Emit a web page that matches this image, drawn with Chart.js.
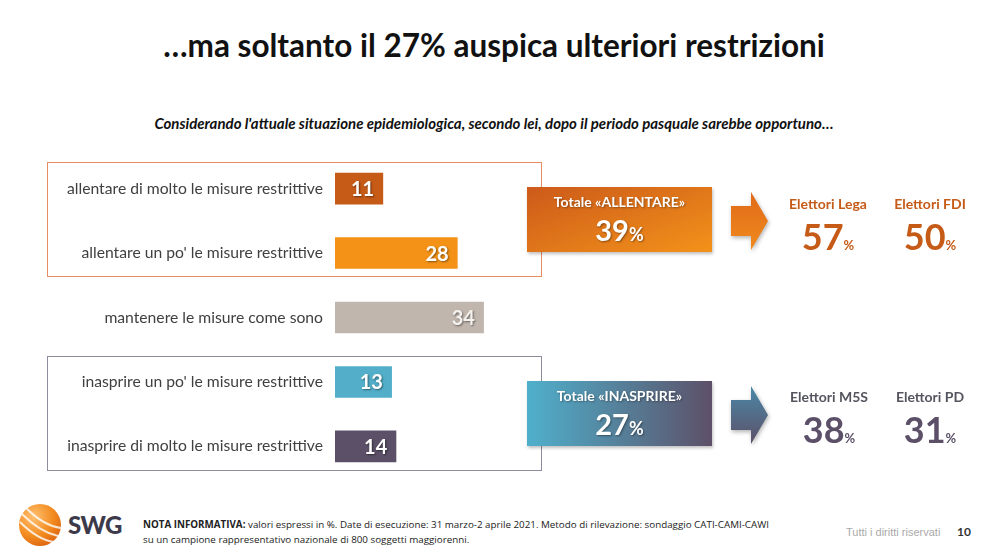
<!DOCTYPE html>
<html>
<head>
<meta charset="utf-8">
<script src="https://cdn.jsdelivr.net/npm/chart.js@4"></script>
<style>
  html, body { margin: 0; padding: 0; background: #fff; }
  body { width: 988px; height: 552px; position: relative; overflow: hidden; font-family: Lato, "Open Sans", sans-serif; }
  .abs { position: absolute; }
  #title { left: 0; width: 988px; top: 26px; text-align: center; font-size: 31.5px; font-weight: bold; color: #111; }
  #subtitle { left: 0; width: 988px; top: 114px; text-align: center; font-size: 15px; font-weight: bold; font-style: italic; color: #111; }
  #chartWrap { left: 0; top: 135px; width: 554px; height: 365px; }
  .group { border: 1.5px solid; box-sizing: border-box; }
  .total { color: #fff; text-align: center; font-weight: bold; box-shadow: 1px 2px 3px rgba(0,0,0,0.25); }
  .total .lbl { font-size: 14px; margin-top: 6px; text-shadow: 1px 1px 2px rgba(0,0,0,0.35); }
  .total .num { font-size: 29px; line-height: 32px; margin-top: 4px; text-shadow: 1px 1px 2px rgba(0,0,0,0.4); }
  .total .num small { font-size: 18px; }
  .party { text-align: center; font-weight: bold; width: 100px; }
  .party .lbl { font-size: 14px; }
  .party .num { font-size: 36px; line-height: 40px; margin-top: 4px; }
  .party .num small { font-size: 13px; }
  #nota { left: 143px; top: 517px; font-family: "Liberation Sans Narrow", "Open Sans", sans-serif; font-size: 9.8px; line-height: 15px; color: #222; }
  #rights { left: 846px; top: 526px; font-family: "Liberation Sans Narrow", sans-serif; font-size: 11px; color: #aaa; }
  #page { left: 957px; top: 524px; font-size: 12px; font-weight: bold; color: #333; }
  #swg { left: 68px; top: 510px; font-size: 24px; font-weight: 900; color: #3c3a4a; letter-spacing: -0.5px; }
</style>
</head>
<body>
<div id="title" class="abs">…ma soltanto il 27% auspica ulteriori restrizioni</div>
<div id="subtitle" class="abs">Considerando l'attuale situazione epidemiologica, secondo lei, dopo il periodo pasquale sarebbe opportuno…</div>

<div class="abs group" style="left:47px;top:162px;width:495px;height:115px;border-color:#e58c62;"></div>
<div class="abs group" style="left:47px;top:356px;width:495px;height:115px;border-color:#8c8c9c;"></div>

<div id="chartWrap" class="abs"><canvas id="chart"></canvas></div>

<div id="tot0" class="abs total" style="left:527px;top:187px;width:185px;height:65px;background:linear-gradient(160deg,#cc5a1a,#f3921a);"></div>
<div id="tot1" class="abs total" style="left:527px;top:381px;width:185px;height:65px;background:linear-gradient(90deg,#4fb0cc,#5d5068);"></div>

<svg class="abs" style="left:726px;top:188px" width="48" height="66">
  <defs><linearGradient id="ga" x1="0" y1="0" x2="0" y2="1"><stop offset="0" stop-color="#e06a18"/><stop offset="1" stop-color="#f08a1e"/></linearGradient></defs>
  <path d="M5 18 H25 V4 L42 33 L25 62 V48 H5 Z" fill="url(#ga)" style="filter:drop-shadow(1px 2px 2px rgba(0,0,0,0.3))"/>
</svg>
<svg class="abs" style="left:726px;top:382px" width="48" height="66">
  <defs><linearGradient id="gb" x1="0" y1="0" x2="0" y2="1"><stop offset="0" stop-color="#4a88a8"/><stop offset="1" stop-color="#5d5068"/></linearGradient></defs>
  <path d="M5 18 H25 V4 L42 33 L25 62 V48 H5 Z" fill="url(#gb)" style="filter:drop-shadow(1px 2px 2px rgba(0,0,0,0.3))"/>
</svg>

<div id="parties"></div>

<svg class="abs" style="left:14px;top:502px" width="52" height="46">
  <defs><radialGradient id="gl" cx="0.35" cy="0.3" r="0.8"><stop offset="0" stop-color="#ffc070"/><stop offset="0.6" stop-color="#f28a1e"/><stop offset="1" stop-color="#d9600f"/></radialGradient></defs>
  <circle cx="26" cy="23" r="21" fill="url(#gl)"/>
  <path d="M8 12 Q26 30 44 34 M6 20 Q24 38 40 40 M12 6 Q30 24 47 26" stroke="#fff" stroke-width="2" fill="none" opacity="0.8"/>
</svg>
<div id="swg" class="abs">SWG</div>
<div id="nota" class="abs"><b>NOTA INFORMATIVA:</b> valori espressi in %. Date di esecuzione: 31 marzo-2 aprile 2021. Metodo di rilevazione: sondaggio CATI-CAMI-CAWI<br>su un campione rappresentativo nazionale di 800 soggetti maggiorenni.</div>
<div id="rights" class="abs">Tutti i diritti riservati</div>
<div id="page" class="abs">10</div>

<script>
// dati
const categories = [
    'allentare di molto le misure restrittive',
    "allentare un po' le misure restrittive",
    'mantenere le misure come sono',
    "inasprire un po' le misure restrittive",
    'inasprire di molto le misure restrittive'
];
const values = [11, 28, 34, 13, 14];
const barColors = ['#c65a17', '#f39217', '#c0b6ae', '#52aec9', '#5b5067'];

const totalLabels = ['Totale «ALLENTARE»', 'Totale «INASPRIRE»'];
const totalValues = [39, 27];

const partyLabels = ['Elettori Lega', 'Elettori FDI', 'Elettori M5S', 'Elettori PD'];
const partyValues = [57, 50, 38, 31];

// etichette valore dentro le barre
const barLabels = {
    id: 'barLabels',
    afterDatasetsDraw(chart) {
        const ctx = chart.ctx;
        const meta = chart.getDatasetMeta(0);
        ctx.save();
        ctx.font = 'bold 20px Lato, sans-serif';
        ctx.textAlign = 'right';
        ctx.textBaseline = 'middle';
        ctx.shadowColor = 'rgba(0,0,0,0.45)';
        ctx.shadowOffsetX = 1;
        ctx.shadowOffsetY = 1;
        ctx.shadowBlur = 2;
        meta.data.forEach((bar, i) => {
            ctx.fillStyle = i === 2 ? '#f4f1ee' : '#fff';
            ctx.fillText(String(values[i]), bar.x - 9, bar.y + 1);
        });
        ctx.restore();
    }
};

new Chart(document.getElementById('chart'), {
    type: 'bar',
    data: {
        labels: categories,
        datasets: [{ data: values, backgroundColor: barColors, borderWidth: 0, barPercentage: 0.49, categoryPercentage: 1 }]
    },
    options: {
        indexAxis: 'y',
        responsive: true,
        maintainAspectRatio: false,
        animation: false,
        layout: { padding: 0 },
        plugins: { legend: { display: false }, tooltip: { enabled: false } },
        scales: {
            x: { display: false, min: 0, max: 50 },
            y: {
                grid: { display: false, drawTicks: false },
                border: { display: false },
                ticks: { color: '#404040', padding: 12, font: { family: 'Lato, sans-serif', size: 15.7 } },
                afterFit: (scale) => { scale.width = 335; }
            }
        }
    },
    plugins: [barLabels]
});

// riquadri dei totali
['tot0', 'tot1'].forEach((id, i) => {
    document.getElementById(id).innerHTML =
        `<div class="lbl">${totalLabels[i]}</div><div class="num">${totalValues[i]}<small>%</small></div>`;
});

// elettorati
const partyPos = [[778, 195, '#c65a17', '#c65a17'], [880, 195, '#c65a17', '#c65a17'],
                  [779, 388, '#555560', '#5b5067'], [880, 388, '#555560', '#5b5067']];
const host = document.getElementById('parties');
partyLabels.forEach((lbl, i) => {
    const [x, y, c1, c2] = partyPos[i];
    const d = document.createElement('div');
    d.className = 'abs party';
    d.style.left = x + 'px';
    d.style.top = y + 'px';
    d.innerHTML = `<div class="lbl" style="color:${c1}">${lbl}</div><div class="num" style="color:${c2}">${partyValues[i]}<small>%</small></div>`;
    host.appendChild(d);
});
</script>
</body>
</html>
